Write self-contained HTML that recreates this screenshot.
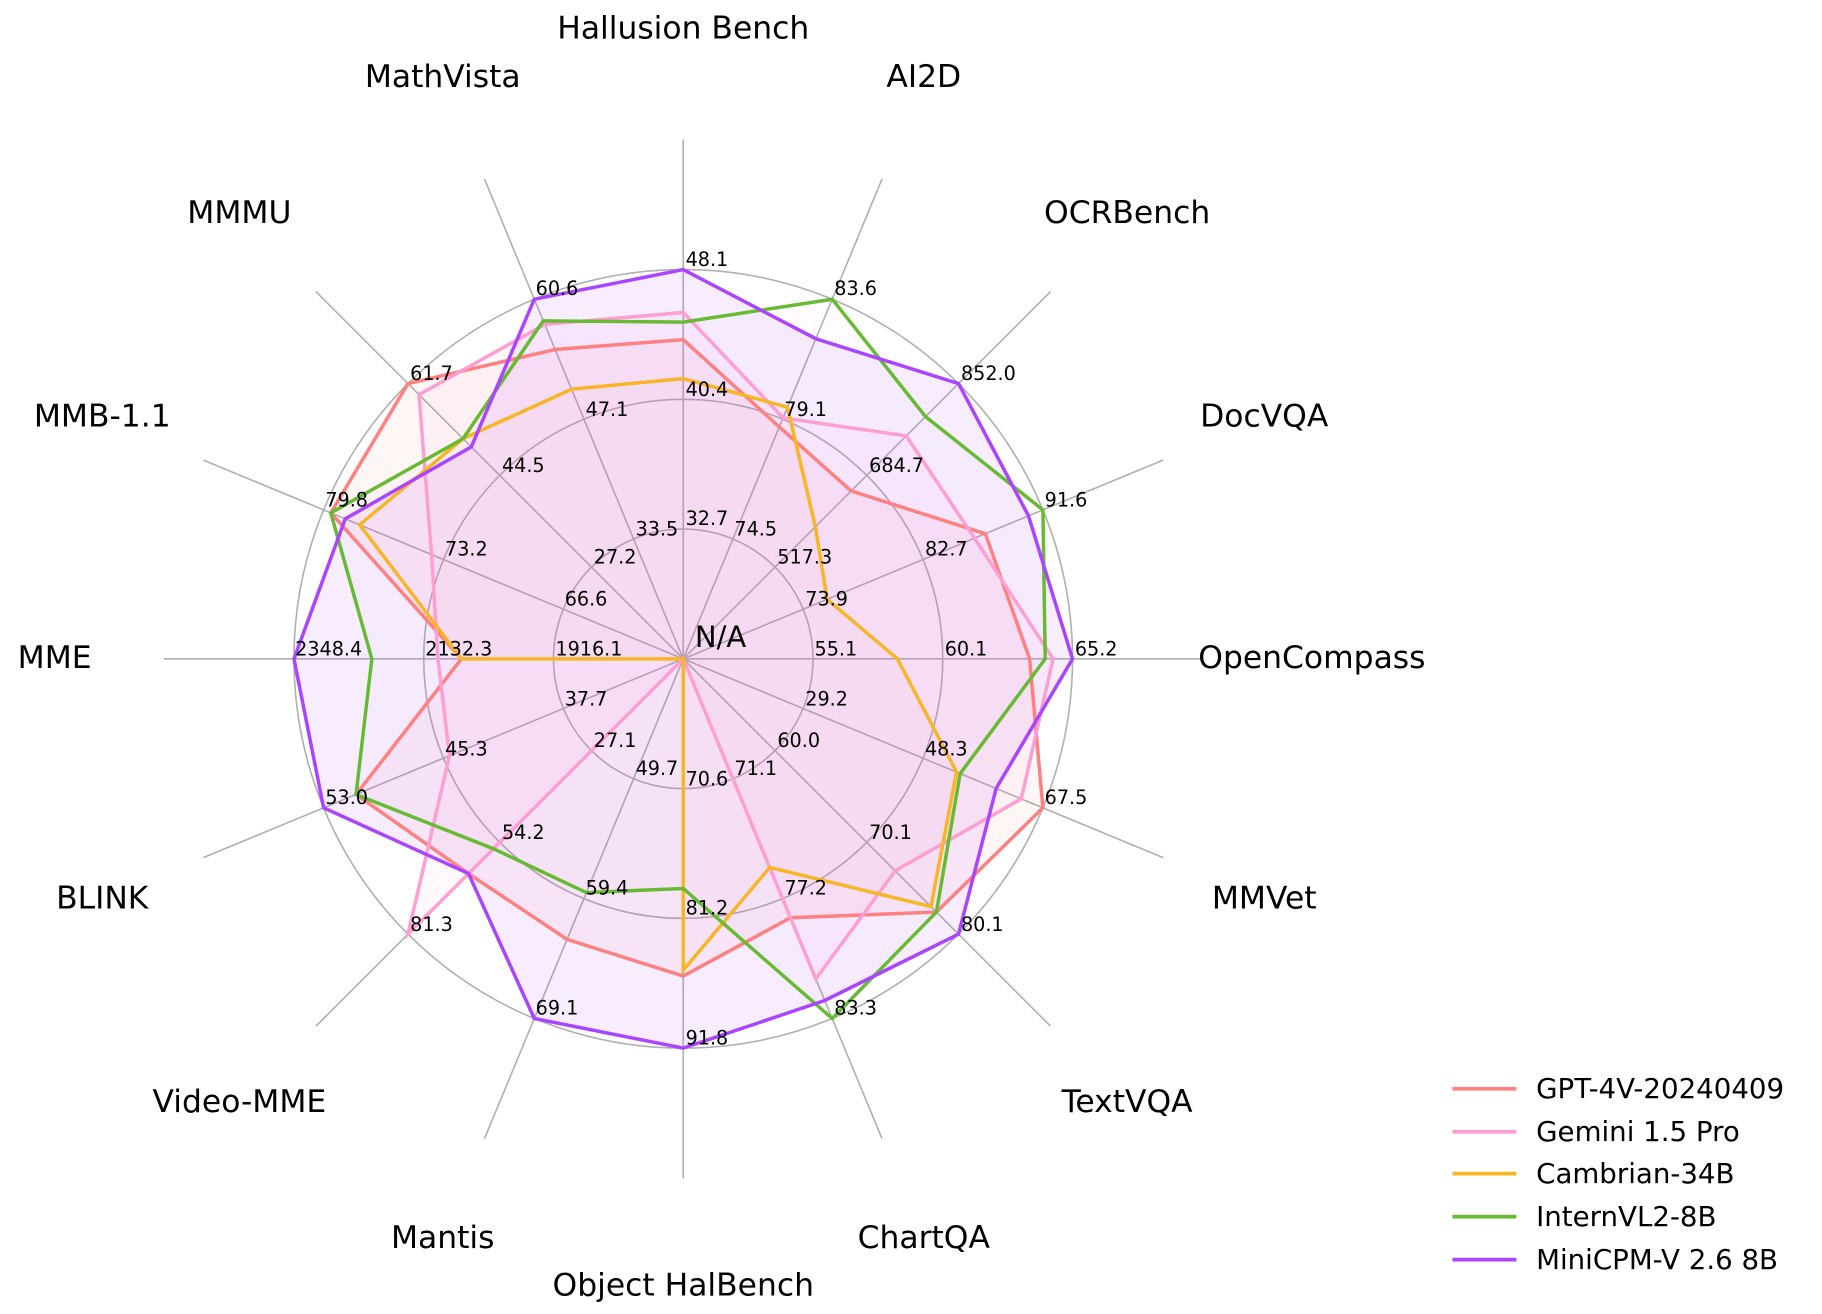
<!DOCTYPE html>
<html><head><meta charset="utf-8"><style>
html,body{margin:0;padding:0;background:#fff;}
svg{display:block;}
text{font-family:"DejaVu Sans","Liberation Sans",sans-serif;fill:#000;}
.v{font-size:16.5px;}
.ax{font-size:27px;}
.lg{font-size:23.8px;}
</style></head><body>
<svg id="s" width="1822" height="1314" viewBox="0 0 1568 1130.8" xmlns="http://www.w3.org/2000/svg">
<rect x="0" y="0" width="1568" height="1131" fill="#fff"/>
<g id="grid" fill="none" stroke="#b0b0b0" stroke-width="1.4">
<circle cx="588" cy="567" r="111.67"/>
<circle cx="588" cy="567" r="223.33"/>
<circle cx="588" cy="567" r="335"/>
</g>
<g id="spokes" stroke="#b0b0b0" stroke-width="1.4"></g>
<g id="series"></g>
<g class="v">
<text x="701" y="564">55.1</text><text x="813" y="564">60.1</text><text x="925" y="564">65.2</text>
<text x="693" y="521">73.9</text><text x="796" y="478">82.7</text><text x="899" y="436">91.6</text>
<text x="669" y="485">517.3</text><text x="748" y="406">684.7</text><text x="827" y="327">852.0</text>
<text x="632" y="461">74.5</text><text x="675" y="358">79.1</text><text x="718" y="254">83.6</text>
<text x="590" y="452">32.7</text><text x="590" y="341">40.4</text><text x="590" y="229">48.1</text>
<text x="547" y="461">33.5</text><text x="504" y="358">47.1</text><text x="461" y="254">60.6</text>
<text x="511" y="485">27.2</text><text x="432" y="406">44.5</text><text x="353" y="327">61.7</text>
<text x="486" y="521">66.6</text><text x="383" y="478">73.2</text><text x="280" y="436">79.8</text>
<text x="478" y="564">1916.1</text><text x="366" y="564">2132.3</text><text x="254" y="564">2348.4</text>
<text x="486" y="607">37.7</text><text x="383" y="650">45.3</text><text x="280" y="692">53.0</text>
<text x="511" y="643">27.1</text><text x="432" y="722">54.2</text><text x="353" y="801">81.3</text>
<text x="547" y="667">49.7</text><text x="504" y="770">59.4</text><text x="461" y="873">69.1</text>
<text x="590" y="676">70.6</text><text x="590" y="787">81.2</text><text x="590" y="899">91.8</text>
<text x="632" y="667">71.1</text><text x="675" y="770">77.2</text><text x="718" y="873">83.3</text>
<text x="669" y="643">60.0</text><text x="748" y="722">70.1</text><text x="827" y="801">80.1</text>
<text x="693" y="607">29.2</text><text x="796" y="650">48.3</text><text x="899" y="692">67.5</text>
</g>
<text x="598" y="557" style="font-size:25px">N/A</text>
<g class="ax" text-anchor="middle">
<text x="1129" y="575">OpenCompass</text>
<text x="1088" y="367">DocVQA</text>
<text x="970" y="192">OCRBench</text>
<text x="795" y="75">AI2D</text>
<text x="588" y="33">Hallusion Bench</text>
<text x="381" y="75">MathVista</text>
<text x="206" y="192">MMMU</text>
<text x="88" y="367">MMB-1.1</text>
<text x="47" y="575">MME</text>
<text x="88" y="782">BLINK</text>
<text x="206" y="957">Video-MME</text>
<text x="381" y="1074">Mantis</text>
<text x="588" y="1115">Object HalBench</text>
<text x="795" y="1074">ChartQA</text>
<text x="970" y="957">TextVQA</text>
<text x="1088" y="782">MMVet</text>
</g>
<g stroke-width="3.2">
<line x1="1250" y1="937" x2="1305" y2="937" stroke="#FF8080"/>
<line x1="1250" y1="974" x2="1305" y2="974" stroke="#FF9ED2"/>
<line x1="1250" y1="1010" x2="1305" y2="1010" stroke="#F8B626"/>
<line x1="1250" y1="1047" x2="1305" y2="1047" stroke="#66BB33"/>
<line x1="1250" y1="1084" x2="1305" y2="1084" stroke="#AA44FF"/>
</g>
<g class="lg">
<text x="1322" y="945">GPT-4V-20240409</text>
<text x="1322" y="982">Gemini 1.5 Pro</text>
<text x="1322" y="1018">Cambrian-34B</text>
<text x="1322" y="1055">InternVL2-8B</text>
<text x="1322" y="1092">MiniCPM-V 2.6 8B</text>
</g>
</svg>
<script>
(function(){
var cx=588,cy=567,R=335,NS="http://www.w3.org/2000/svg";
var sp=document.getElementById('spokes');
for(var k=0;k<16;k++){var a=k*Math.PI/8;var l=document.createElementNS(NS,'line');
l.setAttribute('x1',cx);l.setAttribute('y1',cy);l.setAttribute('x2',cx+447*Math.cos(a));l.setAttribute('y2',cy-447*Math.sin(a));sp.appendChild(l);}
var S=[
["#FF8080","#FF8080",0.07,[0.89,0.84,0.61,0.645,0.82,0.86,1.0,0.98,0.57,0.91,0.78,0.78,0.815,0.72,0.92,1.0]],
["#FF9ED2","#FF9ED2",0.06,[0.95,0.81,0.81,0.67,0.89,0.93,0.96,0.70,0.63,0.65,1.0,0,0,0.89,0.77,0.94]],
["#F8B626","#F0A0C0",0.03,[0.55,0.40,0.48,0.70,0.72,0.75,0.80,0.90,0.57,0,0,0,0.80,0.58,0.90,0.76]],
["#66BB33","#D090F0",0.03,[0.93,1.0,0.88,1.0,0.865,0.94,0.80,0.98,0.80,0.91,0.69,0.65,0.59,1.0,0.92,0.77]],
["#AA44FF","#B050FF",0.1,[1.0,0.96,1.0,0.89,1.0,1.0,0.77,0.94,1.0,1.0,0.78,1.0,1.0,0.95,1.0,0.87]]];
var g=document.getElementById('series');var lines=[];
S.forEach(function(s){var pts=[];for(var k=0;k<16;k++){var a=k*Math.PI/8,r=s[3][k]*R;pts.push((cx+r*Math.cos(a)).toFixed(1)+","+(cy-r*Math.sin(a)).toFixed(1));}
var p=document.createElementNS(NS,'polygon');p.setAttribute('points',pts.join(' '));p.setAttribute('fill',s[1]);p.setAttribute('fill-opacity',s[2]);p.setAttribute('stroke','none');g.appendChild(p);
var q=document.createElementNS(NS,'polygon');q.setAttribute('points',pts.join(' '));q.setAttribute('fill','none');q.setAttribute('stroke',s[0]);q.setAttribute('stroke-width','3');lines.push(q);});
lines.forEach(function(q){g.appendChild(q);});
})();
</script>
</body></html>
